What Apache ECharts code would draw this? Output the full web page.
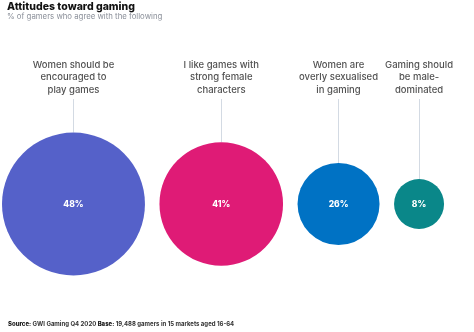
<!DOCTYPE html>
<html><head><meta charset="utf-8">
<script src="https://cdn.jsdelivr.net/npm/echarts@6/dist/echarts.min.js"></script>
<style>html,body{margin:0;padding:0;background:#fff}#c{width:474px;height:332px}</style>
</head><body><div id="c"></div>
<script>
var categories = ['Women should be\nencouraged to\nplay games', 'I like games with\nstrong female\ncharacters', 'Women are\noverly sexualised\nin gaming', 'Gaming should\nbe male-\ndominated'];
var values = [48, 41, 26, 8];
var colors = ['#5561c9', '#df1b76', '#0072c4', '#0a8789'];

var FONT = 'Inter, "Noto Sans", sans-serif';
var CY = 204, LEFT = 2, GAP = 14.5, LINE_TOP = 99;
function diam(v) { return Math.max(50, 10 + 2.77 * v); }
var xs = [], cur = LEFT;
values.forEach(function (v) { var d = diam(v); xs.push(cur + d / 2); cur += d + GAP; });

var bubbles = values.map(function (v, i) {
  return { value: [xs[i], CY, v], itemStyle: { color: colors[i], opacity: 1 } };
});
var labelPts = categories.map(function (c, i) { return { value: [xs[i], 77.5], name: c }; });
var lines = values.map(function (v, i) {
  return [{ coord: [xs[i], LINE_TOP] }, { coord: [xs[i], CY - diam(v) / 2] }];
});

var chart = echarts.init(document.getElementById('c'));
chart.setOption({
  animation: false,
  title: [
    { text: 'Attitudes toward gaming', left: 7, top: 1, padding: 0, textStyle: { fontFamily: FONT, fontWeight: 800, fontSize: 10.5, color: '#111' } },
    { text: '% of gamers who agree with the following', left: 7, top: 13, padding: 0, textStyle: { fontFamily: FONT, fontWeight: 400, fontSize: 7.8, color: '#8a8f99' } },
    { text: '{b|Source:} GWI Gaming Q4 2020 {b|Base:} 19,488 gamers in 15 markets aged 16-64', left: 8, top: 321, padding: 0,
      textStyle: { fontFamily: FONT, fontSize: 6, color: '#333', rich: { b: { fontFamily: FONT, fontSize: 6, fontWeight: 800, color: '#111' } } } }
  ],
  grid: { left: 0, right: 0, top: 0, bottom: 0 },
  xAxis: { type: 'value', min: 0, max: 474, show: false },
  yAxis: { type: 'value', min: 0, max: 332, inverse: true, show: false },
  series: [
    {
      type: 'scatter', data: bubbles, z: 3,
      symbolSize: function (val) { return diam(val[2]); },
      label: { show: true, position: 'inside', formatter: function (p) { return p.value[2] + '%'; },
        color: '#fff', fontFamily: FONT, fontWeight: 800, fontSize: 8.5 },
      emphasis: { disabled: true },
      markLine: { silent: true, symbol: 'none', lineStyle: { color: '#d3dae3', width: 1, type: 'solid' },
        label: { show: false }, data: lines, z: 1 }
    },
    {
      type: 'scatter', data: labelPts, symbolSize: 0,
      label: { show: true, position: 'inside', formatter: function (p) { return p.name; },
        color: '#262626', fontFamily: FONT, fontWeight: 500, fontSize: 9.5, lineHeight: 12.5, align: 'center' }
    }
  ]
});
</script></body></html>
